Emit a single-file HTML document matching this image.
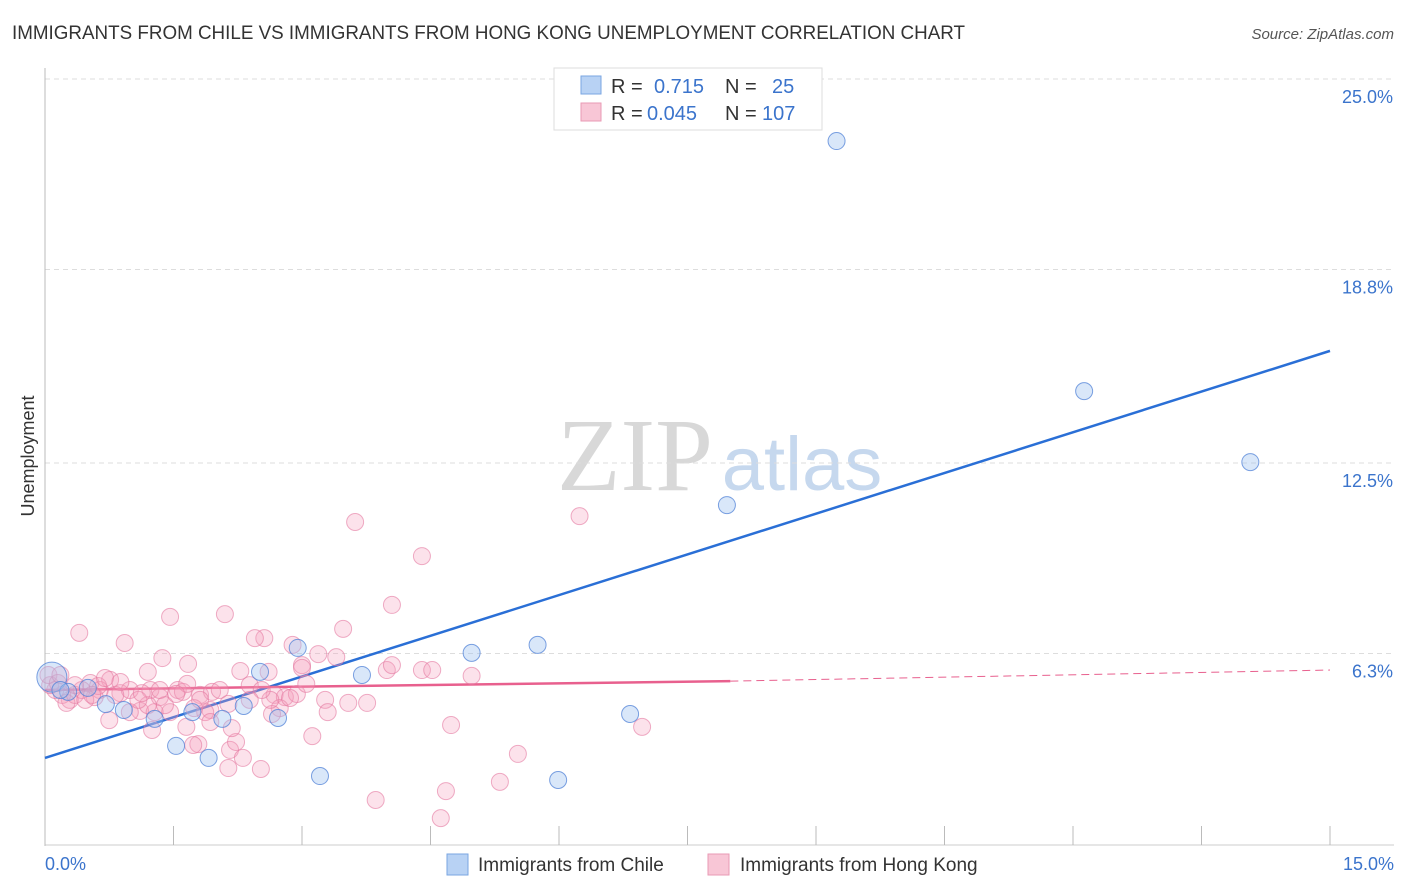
<!DOCTYPE html>
<html><head><meta charset="utf-8"><style>
body{margin:0;background:#fff;font-family:"Liberation Sans",sans-serif;}
svg{display:block}
</style></head><body>
<svg id="chart" width="1406" height="892">
<text x="12" y="39" font-size="19" fill="#333" textLength="953" lengthAdjust="spacingAndGlyphs">IMMIGRANTS FROM CHILE VS IMMIGRANTS FROM HONG KONG UNEMPLOYMENT CORRELATION CHART</text>
<text x="1394" y="39" font-size="15" fill="#555" font-style="italic" text-anchor="end">Source: ZipAtlas.com</text>
<g>
<text x="635" y="490" font-size="104" fill="#d8d8d8" font-family="Liberation Serif,serif" text-anchor="middle">ZIP</text>
<text x="802" y="490" font-size="76" fill="#c6d8ee" text-anchor="middle">atlas</text>
</g>
<g id="grid"></g><g id="axes"></g>
<g id="lines"></g><g id="pts"></g>
<text x="34" y="456" font-size="18" fill="#333" transform="rotate(-90 34 456)" text-anchor="middle">Unemployment</text>
<g>
<rect x="554" y="68" width="268" height="62" fill="#fff" stroke="#ddd"/>
<rect x="581" y="76" width="20" height="18" fill="#b8d2f4" stroke="#7aa6e2"/>
<rect x="581" y="103" width="20" height="18" fill="#f8c6d6" stroke="#e99ab4"/>
<text x="611" y="93" font-size="20" fill="#333">R =</text><text x="654" y="93" font-size="20" fill="#3b74cc">0.715</text>
<text x="725" y="93" font-size="20" fill="#333">N =</text><text x="772" y="93" font-size="20" fill="#3b74cc">25</text>
<text x="611" y="120" font-size="20" fill="#333">R =</text><text x="647" y="120" font-size="20" fill="#3b74cc">0.045</text>
<text x="725" y="120" font-size="20" fill="#333">N =</text><text x="762" y="120" font-size="20" fill="#3b74cc">107</text>
</g>
<g>
<rect x="447" y="854" width="21" height="21" fill="#b8d2f4" stroke="#7aa6e2"/>
<text x="478" y="871" font-size="19" fill="#333">Immigrants from Chile</text>
<rect x="708" y="854" width="21" height="21" fill="#f8c6d6" stroke="#e99ab4"/>
<text x="740" y="871" font-size="19" fill="#333">Immigrants from Hong Kong</text>
</g>
</svg>
<script>
const yTicks=[25.0,18.8,12.5,6.3];
const yTickLabels=["25.0%","18.8%","12.5%","6.3%"];
const xTickValues=[0,1.5,3,4.5,6,7.5,9,10.5,12,13.5,15];
const xEndLabels=["0.0%","15.0%"];
const chileX=[0.08,9.24,12.13,14.07,7.96,5.75,4.98,3.70,2.95,2.51,2.32,2.07,1.72,2.72,1.28,0.92,0.71,0.50,0.27,1.53,1.91,3.21,5.99,6.83,0.18];
const chileY=[5.53,22.98,14.84,12.53,11.13,6.58,6.32,5.60,6.48,5.70,4.59,4.17,4.39,4.20,4.17,4.46,4.65,5.18,5.05,3.29,2.90,2.31,2.18,4.33,5.11];
const hkX=[0.40,0.93,1.46,2.10,1.11,3.62,6.24,4.40,4.05,3.48,2.56,2.45,2.89,3.19,3.40,3.00,3.00,2.61,2.28,1.67,1.37,1.20,0.76,0.53,0.64,0.88,0.99,1.23,1.34,1.55,1.61,1.81,1.95,2.04,2.39,2.68,2.80,2.94,3.05,3.27,3.30,3.54,3.76,3.99,4.05,4.40,4.52,4.98,2.74,2.65,1.93,1.87,1.74,1.46,1.28,1.20,0.99,0.75,0.58,0.29,0.20,0.12,0.06,0.04,0.15,0.25,0.35,0.43,0.62,0.82,1.09,1.40,1.65,1.79,1.73,2.16,2.23,2.31,2.14,2.52,3.12,4.74,5.52,6.97,5.31,4.68,3.86,4.62,2.14,2.63,2.86,1.93,2.18,1.25,0.70,1.66,1.34,0.88,0.47,1.13,1.53,1.81,2.53,2.39,0.18,0.35,0.55];
const hkY=[6.97,6.64,7.49,7.58,4.43,10.58,10.77,9.47,7.88,7.10,6.80,6.80,6.58,6.28,6.18,5.92,5.83,5.70,5.73,5.96,6.15,5.70,5.44,5.34,5.11,5.01,5.11,5.11,4.88,5.11,5.05,4.95,5.05,5.11,5.27,4.95,4.88,4.98,5.31,4.79,4.39,4.69,4.69,5.76,5.92,5.76,5.76,5.57,4.52,4.33,4.46,4.39,4.52,4.39,4.39,4.62,4.39,4.13,4.88,4.79,4.95,5.11,5.27,5.60,5.34,4.69,4.95,5.11,5.24,4.95,4.79,4.62,3.91,3.35,3.32,3.16,3.42,2.90,2.57,2.54,3.61,3.97,3.03,3.91,2.12,1.82,1.53,0.94,4.66,4.79,4.85,4.07,3.87,3.81,5.50,5.31,5.11,5.37,4.79,5.01,4.98,4.79,5.11,4.79,5.60,5.27,4.95];
const chileTrend=[[0,2.9],[15,16.15]];
const hkTrendSolid=[[0,5.11],[8,5.4]];
const hkTrendDash=[[8,5.4],[15,5.76]];

const NS="http://www.w3.org/2000/svg";
const X=v=>45+v/15*1285, Y=v=>847-v*30.72;
function mk(tag,attrs,parent){const e=document.createElementNS(NS,tag);for(const k in attrs)e.setAttribute(k,attrs[k]);document.getElementById(parent).appendChild(e);return e;}
yTicks.forEach((t,i)=>{
 const l=mk('line',{x1:45,x2:1394,y1:Y(t),y2:Y(t),stroke:'#ddd','stroke-dasharray':'5,4'},'grid');
 
 
 const tx=mk('text',{x:1393,y:Y(t)+24,'font-size':18,fill:'#3b74cc','text-anchor':'end'},'grid');
 tx.textContent=yTickLabels[i];
 
 
});
const ya=mk('line',{x1:45,x2:45,y1:68,y2:846,stroke:'#bbb'},'axes');


const xa=mk('line',{x1:45,x2:1394,y1:845,y2:845,stroke:'#ccc'},'axes');


xTickValues.forEach(t=>{
 const l=mk('line',{x1:X(t),x2:X(t),y1:826,y2:845,stroke:'#bbb'},'axes');
 
 
});
[[0,'start',45],[15,'end',1394]].forEach((d,i)=>{
 const t=mk('text',{x:d[2],y:870,'font-size':18,fill:'#3b74cc','text-anchor':d[1]},'axes');
 t.textContent=xEndLabels[i];
 
 
});
hkX.forEach((x,i)=>{
 const c=mk('circle',{cx:X(x),cy:Y(hkY[i]),r:8.5,fill:'rgba(244,160,188,0.3)',stroke:'rgba(228,120,160,0.6)','stroke-width':1},'pts');
 
 
});
chileX.forEach((x,i)=>{
 const c=mk('circle',{cx:X(x),cy:Y(chileY[i]),r:i===0?15:8.5,fill:'rgba(160,196,240,0.4)',stroke:'rgba(80,130,215,0.75)','stroke-width':1},'pts');
 
 
});
const bl=mk('line',{x1:X(chileTrend[0][0]),y1:Y(chileTrend[0][1]),x2:X(chileTrend[1][0]),y2:Y(chileTrend[1][1]),stroke:'#2a6fd6','stroke-width':2.5},'lines');


const pl=mk('line',{x1:X(hkTrendSolid[0][0]),y1:Y(hkTrendSolid[0][1]),x2:X(hkTrendSolid[1][0]),y2:Y(hkTrendSolid[1][1]),stroke:'#e8608e','stroke-width':2.5},'lines');


const pd=mk('line',{x1:X(hkTrendDash[0][0]),y1:Y(hkTrendDash[0][1]),x2:X(hkTrendDash[1][0]),y2:Y(hkTrendDash[1][1]),stroke:'#e8608e','stroke-width':1,'stroke-dasharray':'8,5'},'lines');


</script>
</body></html>
